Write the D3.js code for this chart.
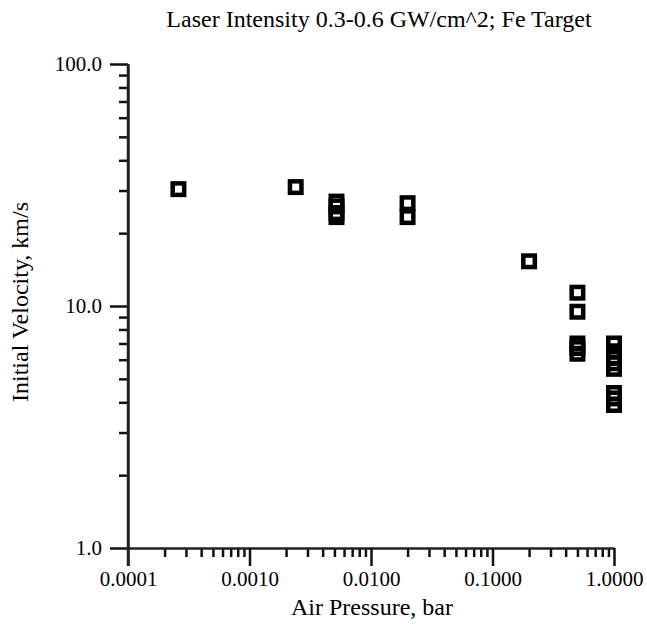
<!DOCTYPE html>
<html>
<head>
<meta charset="utf-8">
<script src="https://cdn.jsdelivr.net/npm/d3@7"></script>
<style>
  body { margin: 0; background: #fff; }
  svg text { font-family: "Liberation Serif", "Times New Roman", serif; fill: #000; }
</style>
</head>
<body>
<div id="vis"></div>
<script>
// values
const pressure = [0.00026, 0.0024, 0.0052, 0.0052, 0.0052, 0.0052, 0.02, 0.02, 0.2,
                  0.5, 0.5, 0.5, 0.5, 0.5, 1, 1, 1, 1, 1, 1, 1, 1];
const velocity = [30.4, 31.0, 27.0, 25.8, 24.2, 23.3, 26.6, 23.3, 15.3,
                  11.35, 9.47, 7.0, 6.7, 6.35, 7.0, 6.5, 6.1, 5.8, 5.5, 4.37, 4.15, 3.9];
const xMajor = [0.0001, 0.001, 0.01, 0.1, 1];
const yMajor = [1, 10, 100];

const title = "Laser Intensity 0.3-0.6 GW/cm^2; Fe Target";
const xTitle = "Air Pressure, bar";
const yTitle = "Initial Velocity, km/s";

const width = 647, height = 624;

const svg = d3.select("#vis").append("svg")
  .attr("width", width)
  .attr("height", height);

const x = d3.scaleLog().domain([0.0001, 1]).range([128, 614]);
const y = d3.scaleLog().domain([1, 100]).range([548, 64]);

// minor ticks (2..9 in each decade)
const xMinor = [], yMinor = [];
xMajor.slice(0, -1).forEach(d => { for (let k = 2; k < 10; k++) xMinor.push(d * k); });
yMajor.slice(0, -1).forEach(d => { for (let k = 2; k < 10; k++) yMinor.push(d * k); });

function styleAxis(g) {
  g.selectAll("line").attr("stroke", "#111").attr("stroke-width", 2.5);
  g.selectAll("path").attr("stroke", "#222").attr("stroke-width", 2.5);
  g.selectAll("text").attr("font-size", 21).attr("fill", "#000")
    .style("font-family", '"Liberation Serif", serif');
}

// x axis
svg.append("g")
  .attr("transform", `translate(0,${y(1)})`)
  .call(d3.axisBottom(x).tickValues(xMinor).tickSize(9).tickSizeOuter(0).tickFormat(""))
  .call(styleAxis)
  .call(g => g.select(".domain").remove());

svg.append("g")
  .attr("transform", `translate(0,${y(1)})`)
  .call(d3.axisBottom(x).tickValues(xMajor).tickSize(18).tickSizeOuter(0)
    .tickPadding(5).tickFormat(d3.format(".4f")))
  .call(styleAxis);

// y axis
svg.append("g")
  .attr("transform", `translate(${x(0.0001)},0)`)
  .call(d3.axisLeft(y).tickValues(yMinor).tickSize(9).tickSizeOuter(0).tickFormat(""))
  .call(styleAxis)
  .call(g => g.select(".domain").remove());

svg.append("g")
  .attr("transform", `translate(${x(0.0001)},0)`)
  .call(d3.axisLeft(y).tickValues(yMajor).tickSize(18).tickSizeOuter(0)
    .tickPadding(8).tickFormat(d3.format(".1f")))
  .call(styleAxis);

// extend y axis line down to the 0.0001 tick
svg.append("line")
  .attr("x1", x(0.0001)).attr("x2", x(0.0001))
  .attr("y1", y(100)).attr("y2", y(1) + 18)
  .attr("stroke", "#222").attr("stroke-width", 2.5);

// points: open squares
const pts = pressure.map((p, i) => ({p: p, v: velocity[i]}));
const s = 11.5;
svg.append("g")
  .selectAll("rect")
  .data(pts)
  .join("rect")
    .attr("x", d => x(d.p) - s / 2)
    .attr("y", d => y(d.v) - s / 2)
    .attr("width", s)
    .attr("height", s)
    .attr("fill", "none")
    .attr("stroke", "#000")
    .attr("stroke-width", 4.5);

// titles
svg.append("text")
  .attr("x", 379).attr("y", 27)
  .attr("text-anchor", "middle")
  .attr("font-size", 24)
  .text(title);

svg.append("text")
  .attr("x", 372).attr("y", 615)
  .attr("text-anchor", "middle")
  .attr("font-size", 24)
  .text(xTitle);

svg.append("text")
  .attr("transform", `translate(28,${302}) rotate(-90)`)
  .attr("text-anchor", "middle")
  .attr("font-size", 24)
  .text(yTitle);
</script>
</body>
</html>
